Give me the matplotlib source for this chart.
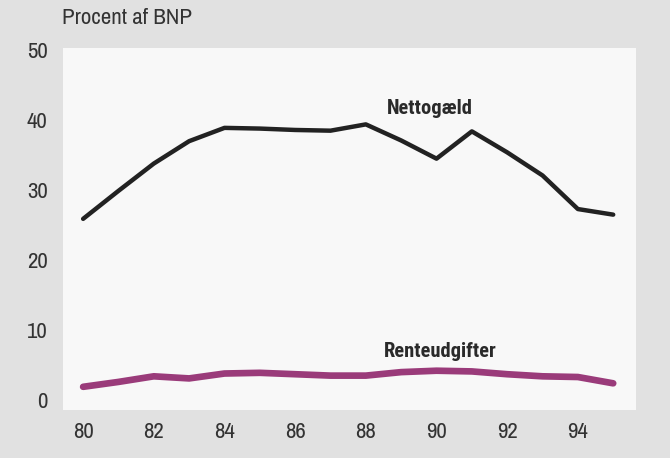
import matplotlib.pyplot as plt

years = list(range(80, 96))
nettogaeld = [25.9, 29.9, 33.8, 37.0, 38.9, 38.8, 38.6, 38.5, 39.4, 37.1,
              34.5, 38.4, 35.4, 32.1, 27.3, 26.5]
renteudgifter = [1.9, 2.6, 3.4, 3.1, 3.8, 3.9, 3.7, 3.5, 3.5, 4.0,
                 4.2, 4.1, 3.7, 3.4, 3.3, 2.4]
xticks = [80, 82, 84, 86, 88, 90, 92, 94]
yticks = [0, 10, 20, 30, 40, 50]

plt.rcParams['font.family'] = ['Archivo Narrow', 'DejaVu Sans']
bold_font = ['Roboto Condensed', 'DejaVu Sans']

fig = plt.figure(figsize=(6.7, 4.58), dpi=100)
fig.patch.set_facecolor('#e1e1e1')
ax = fig.add_axes([0.094, 0.105, 0.855, 0.79])
ax.set_facecolor('#f8f8f8')

ax.plot(years, nettogaeld, color='#222222', linewidth=3.2, solid_capstyle='round')
ax.plot(years, renteudgifter, color='#9a3b7a', linewidth=4.8, solid_capstyle='round')

# series labels sit right on the chart
ax.text(89.8, 41.6, 'Nettogæld', fontsize=14.8, fontweight='bold', color='#2a2a2a',
        ha='center', va='center', family=bold_font)
ax.text(90.1, 6.9, 'Renteudgifter', fontsize=14.8, fontweight='bold', color='#2a2a2a',
        ha='center', va='center', family=bold_font)

ax.set_xlim(79.43, 95.64)
ax.set_ylim(-1.4, 50.3)
ax.set_xticks(xticks)
ax.set_yticks(yticks)
ax.tick_params(length=0, labelsize=16.5, colors='#333333')
ax.tick_params(axis='x', pad=9)
ax.tick_params(axis='y', pad=11)
for s in ax.spines.values():
    s.set_visible(False)

fig.text(0.093, 0.961, 'Procent af BNP', fontsize=16.5, color='#333333', va='center', ha='left')

fig.savefig('out.png', dpi=100, facecolor=fig.get_facecolor())
